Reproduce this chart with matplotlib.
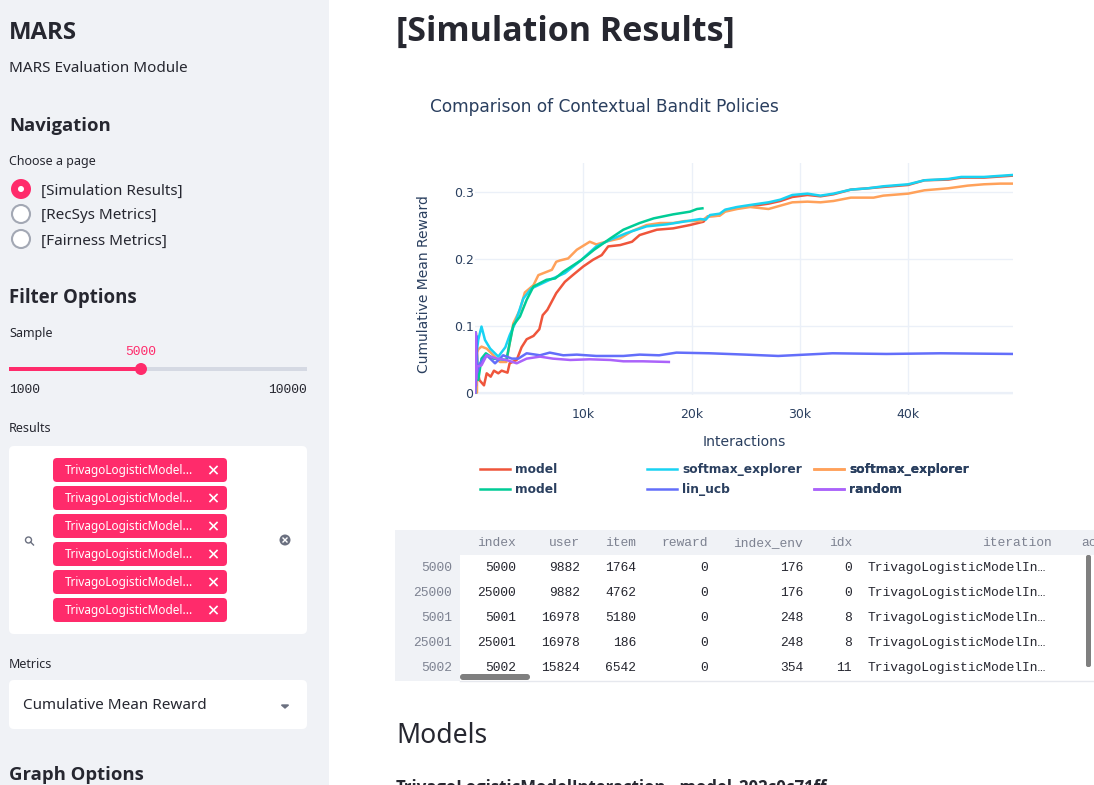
import matplotlib
matplotlib.use("Agg")
import matplotlib.pyplot as plt
from matplotlib.patches import FancyBboxPatch, Rectangle, Circle

W, H = 1094, 785
UI = ["Noto Sans", "DejaVu Sans"]
BOLD = ["Open Sans", "DejaVu Sans"]
CH = ["DejaVu Sans"]
MONO = ["Liberation Mono", "DejaVu Sans Mono"]
INK = "#262730"
PLOT_INK = "#2a3f5f"
PINK = "#ff2b6b"

# ---- chart data (x in thousands of interactions) ----
red_x = [0.02, 0.08, 0.15, 0.4, 0.83, 1.08, 1.45, 1.75, 2.15, 2.46, 3, 3.2, 3.85, 4.3, 4.77, 5.4, 5.94, 6.25, 6.68, 7.5, 8.3, 9.1, 10, 10.9, 11.7, 12.3, 13.4, 14.5, 15.2, 16.8, 18.3, 19.85, 21.1, 21.5, 22.5, 23.1, 24.2, 25.4, 27.1, 28.2, 29.3, 30.7, 31.9, 33.1, 34.7, 36.3, 37.7, 40, 41.5, 43.7, 44.9, 47, 49.7]
red_y = [0, 0.09, 0.045, 0.019, 0.011, 0.029, 0.024, 0.033, 0.029, 0.033, 0.03, 0.044, 0.049, 0.068, 0.08, 0.085, 0.095, 0.116, 0.124, 0.149, 0.166, 0.177, 0.189, 0.199, 0.206, 0.219, 0.221, 0.226, 0.236, 0.244, 0.246, 0.251, 0.256, 0.264, 0.265, 0.273, 0.277, 0.279, 0.283, 0.287, 0.293, 0.296, 0.294, 0.297, 0.304, 0.306, 0.308, 0.311, 0.318, 0.319, 0.322, 0.322, 0.325]
orange_x = [0.02, 0.18, 0.2, 0.3, 0.6, 1.08, 1.7, 2.3, 2.9, 3.2, 3.54, 4.15, 4.6, 5.4, 5.85, 7.1, 7.5, 7.85, 8.6, 9.4, 10.6, 11.2, 12.3, 13.4, 14.5, 15.85, 17.1, 18.3, 19.4, 20.9, 21.5, 22.6, 23.1, 24.2, 25.4, 27.1, 28.2, 29.3, 30.7, 31.9, 33.1, 34.7, 36.8, 37.7, 40, 41.5, 43.7, 45.5, 47, 48.5, 49.7]
orange_y = [0, 0, 0.06, 0.065, 0.069, 0.066, 0.056, 0.046, 0.046, 0.074, 0.104, 0.124, 0.15, 0.161, 0.176, 0.184, 0.196, 0.198, 0.201, 0.214, 0.226, 0.222, 0.227, 0.231, 0.242, 0.251, 0.254, 0.254, 0.257, 0.257, 0.264, 0.265, 0.271, 0.275, 0.278, 0.275, 0.28, 0.285, 0.286, 0.285, 0.287, 0.292, 0.292, 0.295, 0.298, 0.303, 0.306, 0.31, 0.312, 0.313, 0.313]
cyan_x = [0.02, 0.07, 0.3, 0.6, 0.92, 1.4, 2.15, 2.8, 3.2, 3.7, 4.46, 5.2, 6.9, 8.3, 9.7, 11.2, 12.5, 14, 15.85, 17.7, 20.8, 21.3, 21.7, 22.6, 23.1, 24.2, 25.4, 27.1, 28.2, 29.3, 30.7, 31.9, 33.1, 34.7, 36.3, 37.7, 40, 41.5, 43.7, 44.9, 47, 49.7]
cyan_y = [0, 0.05, 0.079, 0.099, 0.079, 0.066, 0.054, 0.068, 0.086, 0.104, 0.141, 0.156, 0.169, 0.179, 0.197, 0.219, 0.229, 0.239, 0.249, 0.252, 0.26, 0.259, 0.266, 0.268, 0.274, 0.278, 0.281, 0.285, 0.289, 0.296, 0.298, 0.295, 0.298, 0.304, 0.306, 0.309, 0.312, 0.318, 0.32, 0.323, 0.323, 0.326]
green_x = [0.02, 0.07, 0.3, 0.6, 1, 1.7, 2.9, 3.2, 3.54, 4.15, 4.77, 5.4, 6.6, 7.4, 8.15, 9.1, 9.85, 11, 12.5, 13.7, 15.2, 16.5, 18.3, 19.85, 20.5, 21]
green_y = [0, 0.09, 0.019, 0.051, 0.059, 0.051, 0.049, 0.074, 0.101, 0.114, 0.139, 0.159, 0.169, 0.171, 0.181, 0.191, 0.199, 0.214, 0.231, 0.244, 0.254, 0.261, 0.267, 0.271, 0.275, 0.276]
blue_x = [0.02, 0.08, 0.14, 0.2, 0.46, 1.08, 1.85, 2.6, 3.4, 4, 4.77, 6, 6.9, 8.15, 9.4, 11.2, 13.7, 15.2, 17, 18.6, 21.7, 25, 28, 33, 38, 43, 49.7]
blue_y = [0.09, 0.01, 0.085, 0.03, 0.044, 0.056, 0.044, 0.056, 0.051, 0.051, 0.059, 0.056, 0.06, 0.056, 0.057, 0.055, 0.055, 0.057, 0.056, 0.06, 0.059, 0.057, 0.055, 0.059, 0.058, 0.059, 0.058]
purple_x = [0.02, 0.05, 0.1, 0.15, 0.6, 1.08, 2, 2.9, 3.85, 4.77, 6, 7.2, 8.8, 10.6, 12.5, 13.7, 15.5, 17.9]
purple_y = [0, 0.09, 0.02, 0.039, 0.041, 0.056, 0.051, 0.049, 0.044, 0.051, 0.054, 0.051, 0.049, 0.05, 0.049, 0.047, 0.047, 0.046]

legend_names = ["model", "model", "softmax_explorer", "lin_ucb", "softmax_explorer", "random"]
x_ticks = [10, 20, 30, 40]
x_tick_labels = ["10k", "20k", "30k", "40k"]
y_ticks = [0, 0.1, 0.2, 0.3]
y_tick_labels = ["0", "0.1", "0.2", "0.3"]

# ---- table data ----
tbl_index = ["5000", "25000", "5001", "25001", "5002"]
tbl_idx0 = ["5000", "25000", "5001", "25001", "5002"]
tbl_user = ["9882", "9882", "16978", "16978", "15824"]
tbl_item = ["1764", "4762", "5180", "186", "6542"]
tbl_reward = ["0", "0", "0", "0", "0"]
tbl_env = ["176", "176", "248", "248", "354"]
tbl_idx = ["0", "0", "8", "8", "11"]
tbl_iter = ["TrivagoLogisticModelIn…"] * 5

fig = plt.figure(figsize=(W / 100, H / 100), dpi=100, facecolor="white")
ui = fig.add_axes([0, 0, 1, 1], zorder=0)
ui.set_xlim(0, W)
ui.set_ylim(H, 0)
ui.axis("off")


def t(x, y, s, px=16, color=INK, weight="normal", ha="left", fam=UI, **kw):
    if fam is MONO:
        y -= 1
    ui.text(x, y + 0.36 * px, s, fontsize=px * 0.72, color=color, fontweight=weight, ha=ha, va="baseline", family=fam, **kw)


def rbox(x0, y0, x1, y1, color, r=4, z=1):
    ui.add_patch(FancyBboxPatch((x0 + r, y0 + r), x1 - x0 - 2 * r, y1 - y0 - 2 * r,
                                boxstyle=f"round,pad={r},rounding_size={r}", fc=color, ec="none", zorder=z))


# sidebar
ui.add_patch(Rectangle((0, 0), 329, H, fc="#f0f2f6", ec="none", zorder=0))
t(9, 30, "MARS", 24, weight="bold", fam=BOLD)
t(9, 67, "MARS Evaluation Module", 15.25)
t(9, 124, "Navigation", 18.5, weight="bold", fam=BOLD)
t(9, 160, "Choose a page", 12.5)
for yy, lab, on in [(189, "[Simulation Results]", True), (214, "[RecSys Metrics]", False), (239, "[Fairness Metrics]", False)]:
    if on:
        ui.add_patch(Circle((21, yy), 10, fc=PINK, ec="none", zorder=2))
        ui.add_patch(Circle((21, yy), 3, fc="white", ec="none", zorder=3))
    else:
        ui.add_patch(Circle((21, yy), 9, fc="white", ec="#a3a8b4", lw=1.5, zorder=2))
    t(41, yy, lab, 15.25)
t(9, 296, "Filter Options", 18.7, weight="bold", fam=BOLD)
t(9, 332, "Sample", 12.5)
t(141, 351, "5000", 13, color=PINK, ha="center", fam=MONO)
ui.add_patch(Rectangle((9, 367), 298, 4, fc="#d5d9e3", ec="none", zorder=1))
ui.add_patch(Rectangle((9, 367), 132, 4, fc=PINK, ec="none", zorder=2))
ui.add_patch(Circle((141, 369), 6, fc=PINK, ec="none", zorder=3))
t(9, 389, "1000", 13, fam=MONO)
t(307, 389, "10000", 13, ha="right", fam=MONO)
t(9, 428, "Results", 12.5)
rbox(9, 446, 307, 634, "white", 5)
for y0 in [458, 486, 514, 542, 570, 598]:
    rbox(53, y0, 227, y0 + 24, PINK, 4, z=2)
    t(65, y0 + 12, "TrivagoLogisticModel...", 11.8, color="white", zorder=3)
    ui.plot([210, 217], [y0 + 8.5, y0 + 15.5], color="white", lw=1.2, zorder=3)
    ui.plot([210, 217], [y0 + 15.5, y0 + 8.5], color="white", lw=1.2, zorder=3)
ui.add_patch(Circle((28.5, 540), 3, fc="none", ec="#6b7080", lw=1, zorder=3))
ui.plot([30.5, 33.5], [542, 545], color="#6b7080", lw=1, zorder=3)
ui.add_patch(Circle((285, 540), 5.5, fc="#6b7080", ec="none", zorder=3))
ui.plot([283, 287], [538, 542], color="white", lw=1, zorder=4)
ui.plot([283, 287], [542, 538], color="white", lw=1, zorder=4)
t(9, 663, "Metrics", 12.5)
rbox(9, 680, 307, 729, "white", 5)
t(23, 704, "Cumulative Mean Reward", 15.25, zorder=3)
ui.fill([281.5, 288.5, 285], [705, 705, 708], color="#6b7080", zorder=3)
t(9, 773, "Graph Options", 18.5, weight="bold", fam=BOLD)

# main header
t(396, 29, "[Simulation Results]", 34, weight="bold", fam=BOLD)

# chart title and axis labels
t(430, 106, "Comparison of Contextual Bandit Policies", 17, color=PLOT_INK, fam=CH)
t(744, 441, "Interactions", 14, color=PLOT_INK, ha="center", fam=CH)
ui.text(424, 284, "Cumulative Mean Reward", fontsize=13.9 * 0.72, color=PLOT_INK, ha="center", va="center",
        family=CH, rotation=90)

# table
ui.add_patch(Rectangle((395, 530), W - 395, 25, fc="#f0f2f6", ec="none", zorder=1))
ui.add_patch(Rectangle((395, 555), 65, 126, fc="#f0f2f6", ec="none", zorder=1))
ui.plot([460, W], [680.5, 680.5], color="#e6e8ee", lw=1, zorder=1)
HDR = "#7d8291"
for xr, lab in [(516, "index"), (580, "user"), (636, "item"), (708, "reward"), (803, "index_env"), (852, "idx"), (1052, "iteration")]:
    t(xr, 542, lab, 13, color=HDR, ha="right", fam=MONO, zorder=3)
t(1081, 542, "action", 13, color=HDR, fam=MONO, zorder=3)
for i, yy in enumerate([567, 592, 617, 642, 667]):
    t(452, yy, tbl_index[i], 13, color=HDR, ha="right", fam=MONO, zorder=3)
    for xr, col in [(516, tbl_idx0), (580, tbl_user), (636, tbl_item), (708, tbl_reward), (803, tbl_env), (852, tbl_idx)]:
        t(xr, yy, col[i], 13, ha="right", fam=MONO, zorder=3)
    t(868, yy, tbl_iter[i], 13, fam=MONO, zorder=3)
rbox(1086, 555, 1091, 667, "#7f7f7f", 2, z=4)
rbox(460, 674, 530, 680, "#7f7f7f", 3, z=4)

t(396, 733, "Models", 26.5, color="#262730")
t(396, 787, "TrivagoLogisticModelInteraction__model_202c0c71ff", 16.7, weight="bold", fam=BOLD)

# chart axes
L, R, TOP, BOT = 475, 1013, 163, 395
ax = fig.add_axes([L / W, 1 - BOT / H, (R - L) / W, (BOT - TOP) / H], zorder=2)
ax.patch.set_alpha(0)
ax.set_xlim(0, (R - L) / 10.83)
ax.set_ylim((392.7 - BOT) / 668, (392.7 - TOP) / 668)
for s in ax.spines.values():
    s.set_visible(False)
ax.set_xticks(x_ticks, x_tick_labels, fontsize=12.5 * 0.72, color=PLOT_INK, family=CH)
ax.set_yticks(y_ticks, y_tick_labels, fontsize=12.5 * 0.72, color=PLOT_INK, family=CH)
ax.tick_params(length=0, pad=1)
ax.tick_params(axis="x", pad=9)
ax.grid(True, color="#ebf0f8", lw=1)
ax.set_axisbelow(True)
ax.axhline(0, color="#ebf0f8", lw=1.6, zorder=0)

LW = 1.8
l_red, = ax.plot(red_x, red_y, color="#ef553b", lw=LW, zorder=3)
l_orange, = ax.plot(orange_x, orange_y, color="#ffa15a", lw=LW, zorder=3.1)
l_cyan, = ax.plot(cyan_x, cyan_y, color="#19d3f3", lw=LW, zorder=3.2)
l_green, = ax.plot(green_x, green_y, color="#00cc96", lw=LW, zorder=3.3)
l_blue, = ax.plot(blue_x, blue_y, color="#636efa", lw=LW, zorder=3.4)
l_purple, = ax.plot(purple_x, purple_y, color="#ab63fa", lw=LW, zorder=3.5)

handles = [l_red, l_green, l_cyan, l_blue, l_orange, l_purple]
for c, px in enumerate([480, 647, 814]):
    leg = ax.legend(handles[2 * c:2 * c + 2], legend_names[2 * c:2 * c + 2], loc="upper left",
                    bbox_to_anchor=(px, 463), bbox_transform=ui.transData, frameon=False,
                    prop={"family": CH, "weight": "bold", "size": 12.2 * 0.72},
                    handlelength=30 / 12.2, handletextpad=5 / 12.2, labelspacing=0.6,
                    borderpad=0, borderaxespad=0, labelcolor=PLOT_INK)
    ax.add_artist(leg)

fig.savefig("out.png", dpi=100)
